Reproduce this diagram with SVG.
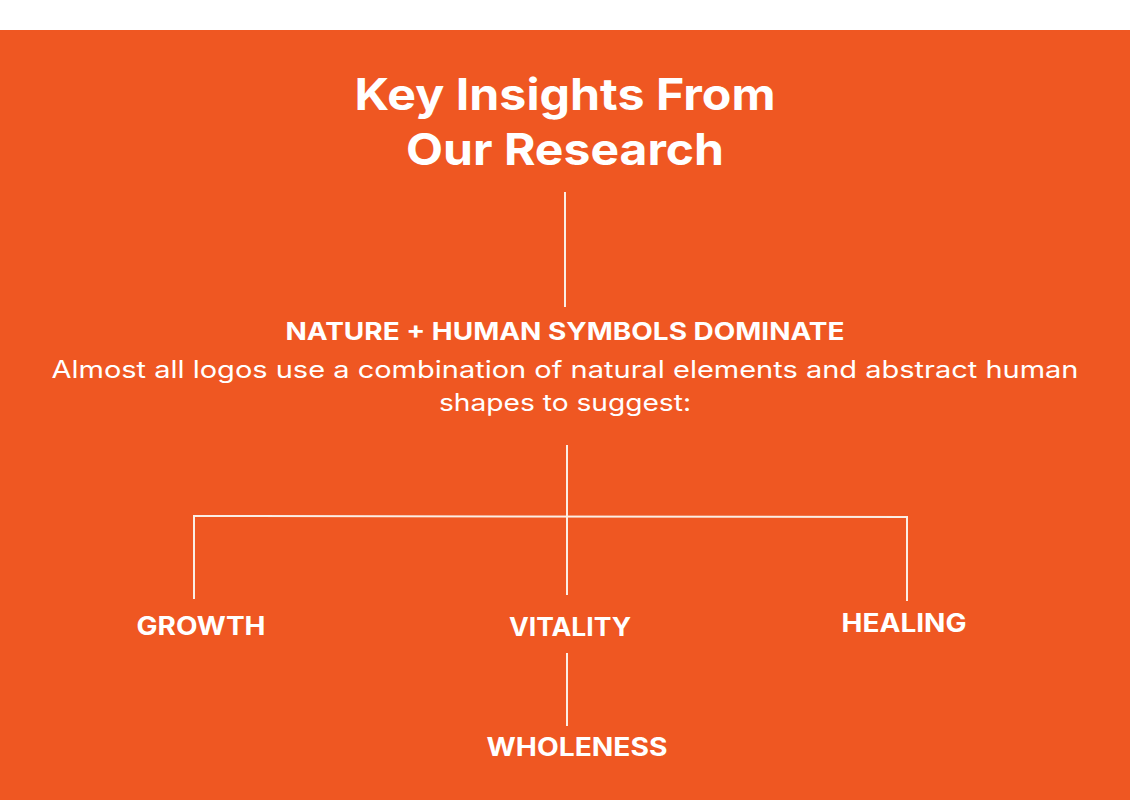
<svg xmlns="http://www.w3.org/2000/svg" width="1132" height="800" viewBox="0 0 1132 800">
<style>
.t{font-family:Inter,"Open Sans","Liberation Sans",sans-serif;fill:#ffffff;text-anchor:middle}
.title{font-size:44px;font-weight:700}
.head{font-size:24px;font-weight:700}
.body{font-size:24px;font-weight:400}
.lab{font-size:25px;font-weight:700}
.ln{stroke:#fbeee4;stroke-width:2;fill:none}
</style>
<rect x="0" y="0" width="1132" height="800" fill="#ffffff"/>
<rect x="0" y="30" width="1130" height="770" fill="#ef5722"/>
<g id="title"><text class="t title" x="565" y="110" textLength="421" lengthAdjust="spacingAndGlyphs">Key Insights From</text><text class="t title" x="565" y="165" textLength="318" lengthAdjust="spacingAndGlyphs">Our Research</text></g>
<g id="connectors">
<line class="ln" x1="565" y1="192" x2="565" y2="307"/>
<line class="ln" x1="567" y1="445" x2="567" y2="595"/>
<polyline class="ln" points="194,599 194,516 907,517 907,601"/>
<line class="ln" x1="567" y1="653" x2="567" y2="726"/>
</g>
<g id="main"><text class="t head" x="565" y="340" textLength="559" lengthAdjust="spacingAndGlyphs">NATURE + HUMAN SYMBOLS DOMINATE</text>
<text class="t body" x="565" y="378" textLength="1027" lengthAdjust="spacingAndGlyphs">Almost all logos use a combination of natural elements and abstract human</text>
<text class="t body" x="565" y="411" textLength="252" lengthAdjust="spacingAndGlyphs">shapes to suggest:</text></g>
<g id="growth"><text class="t lab" x="201" y="635" textLength="129" lengthAdjust="spacingAndGlyphs">GROWTH</text></g>
<g id="vitality"><text class="t lab" x="570" y="636" textLength="122" lengthAdjust="spacingAndGlyphs">VITALITY</text></g>
<g id="healing"><text class="t lab" x="904" y="632" textLength="125" lengthAdjust="spacingAndGlyphs">HEALING</text></g>
<g id="wholeness"><text class="t lab" x="577" y="756" textLength="181" lengthAdjust="spacingAndGlyphs">WHOLENESS</text></g>
</svg>
